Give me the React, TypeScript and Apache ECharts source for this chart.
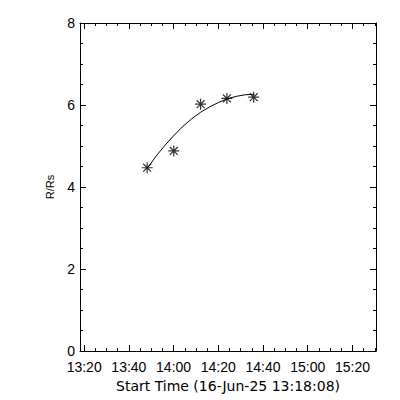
import React, { useEffect, useRef } from "react";
import * as echarts from "echarts";

// Observed CME front heights (R/Rs) at observation times
const obsTimes = ["13:48:10", "14:00:05", "14:12:05", "14:23:50", "14:35:50"];
const obsHeights = [4.47, 4.88, 6.02, 6.16, 6.19];

// Fitted height-time curve
const fitTimes = [
  "13:48:10", "13:52:00", "13:56:00", "14:00:00", "14:04:00", "14:08:00", "14:12:00",
  "14:16:00", "14:20:00", "14:24:00", "14:28:00", "14:32:00", "14:35:50",
];
const fitHeights = [4.45, 4.74, 5.01, 5.25, 5.47, 5.66, 5.82, 5.95, 6.06, 6.15, 6.21, 6.25, 6.26];

// Axis ticks
const xMajorTicks = ["13:20", "13:40", "14:00", "14:20", "14:40", "15:00", "15:20"];
const xMinorTicks = [
  "13:25", "13:30", "13:35", "13:45", "13:50", "13:55", "14:05", "14:10", "14:15",
  "14:25", "14:30", "14:35", "14:45", "14:50", "14:55", "15:05", "15:10", "15:15",
  "15:25", "15:30",
];
const axisStart = "13:18:08";
const axisEnd = "15:30:32";
const yTicks = [0, 2, 4, 6, 8];

const toMin = (s: string) => {
  const p = s.split(":").map(Number);
  return p[0] * 60 + p[1] + (p[2] || 0) / 60;
};
const fmt = (v: number) => {
  const m = Math.round(v);
  const h = Math.floor(m / 60);
  const mm = m % 60;
  return `${h}:${mm < 10 ? "0" : ""}${mm}`;
};

const FONT = "Liberation Sans";
const TITLE_FONT = "DejaVu Sans";
const STAR = "path://M0,-5L0,5M-5,0L5,0M-3.6,-3.6L3.6,3.6M-3.6,3.6L3.6,-3.6";

export default function App() {
  const ref = useRef<HTMLDivElement>(null);
  useEffect(() => {
    if (!ref.current) return;
    const chart = echarts.init(ref.current, null, { renderer: "svg" });
    const xMin = toMin(axisStart);
    const xMax = toMin(axisEnd);
    const majors = xMajorTicks.map(toMin);
    const minors = xMinorTicks.map(toMin);
    const line = { show: true, lineStyle: { color: "#000", width: 1 } };
    const xBase = (position: "top" | "bottom") => ({
      type: "value" as const,
      position,
      min: xMin,
      max: xMax,
      splitLine: { show: false },
    });
    const yBase = (position: "left" | "right") => ({
      type: "value" as const,
      position,
      min: yTicks[0],
      max: yTicks[yTicks.length - 1],
      interval: 2,
      splitLine: { show: false },
      axisLine: line,
      axisTick: { show: true, inside: true, length: 6, lineStyle: { color: "#000" } },
      minorTick: { show: true, splitNumber: 4, length: 3, lineStyle: { color: "#000" } },
      minorSplitLine: { show: false },
    });
    chart.setOption({
      animation: false,
      backgroundColor: "#fff",
      grid: { left: 80, top: 23, width: 296, height: 328, containLabel: false },
      xAxis: [
        {
          ...xBase("bottom"),
          axisLine: line,
          axisTick: { show: true, inside: true, length: 6, customValues: majors, lineStyle: { color: "#000" } },
          axisLabel: {
            show: true,
            customValues: majors,
            formatter: (v: number) => fmt(v),
            color: "#000",
            fontFamily: FONT,
            fontSize: 14,
            margin: 9,
          },
          name: "Start Time (16-Jun-25 13:18:08)",
          nameLocation: "middle",
          nameGap: 26,
          nameTextStyle: { color: "#000", fontFamily: TITLE_FONT, fontSize: 14 },
        },
        {
          ...xBase("bottom"),
          axisLine: { show: false },
          axisTick: { show: true, inside: true, length: 3, customValues: minors, lineStyle: { color: "#000" } },
          axisLabel: { show: false },
        },
        {
          ...xBase("top"),
          axisLine: line,
          axisTick: { show: true, inside: true, length: 6, customValues: majors, lineStyle: { color: "#000" } },
          axisLabel: { show: false },
        },
        {
          ...xBase("top"),
          axisLine: { show: false },
          axisTick: { show: true, inside: true, length: 3, customValues: minors, lineStyle: { color: "#000" } },
          axisLabel: { show: false },
        },
      ],
      yAxis: [
        {
          ...yBase("left"),
          axisLabel: { show: true, color: "#000", fontFamily: FONT, fontSize: 14, margin: 5 },
          name: "R/Rs",
          nameLocation: "middle",
          nameGap: 25,
          nameRotate: 90,
          nameTextStyle: { color: "#000", fontFamily: FONT, fontSize: 11 },
        },
        {
          ...yBase("right"),
          axisLabel: { show: false },
        },
      ],
      series: [
        {
          type: "line",
          xAxisIndex: 0,
          yAxisIndex: 0,
          data: fitTimes.map((t, i) => [toMin(t), fitHeights[i]]),
          showSymbol: false,
          symbol: "none",
          smooth: false,
          lineStyle: { color: "#000", width: 1 },
          silent: true,
        },
        {
          type: "scatter",
          xAxisIndex: 0,
          yAxisIndex: 0,
          data: obsTimes.map((t, i) => [toMin(t), obsHeights[i]]),
          symbol: STAR,
          symbolSize: 11,
          itemStyle: { color: "transparent", borderColor: "#000", borderWidth: 1.2 },
          silent: true,
        },
      ],
    });
    return () => chart.dispose();
  }, []);
  return (
    <div
      ref={ref}
      style={{ position: "absolute", left: 0, top: 0, width: 400, height: 400 }}
    />
  );
}
